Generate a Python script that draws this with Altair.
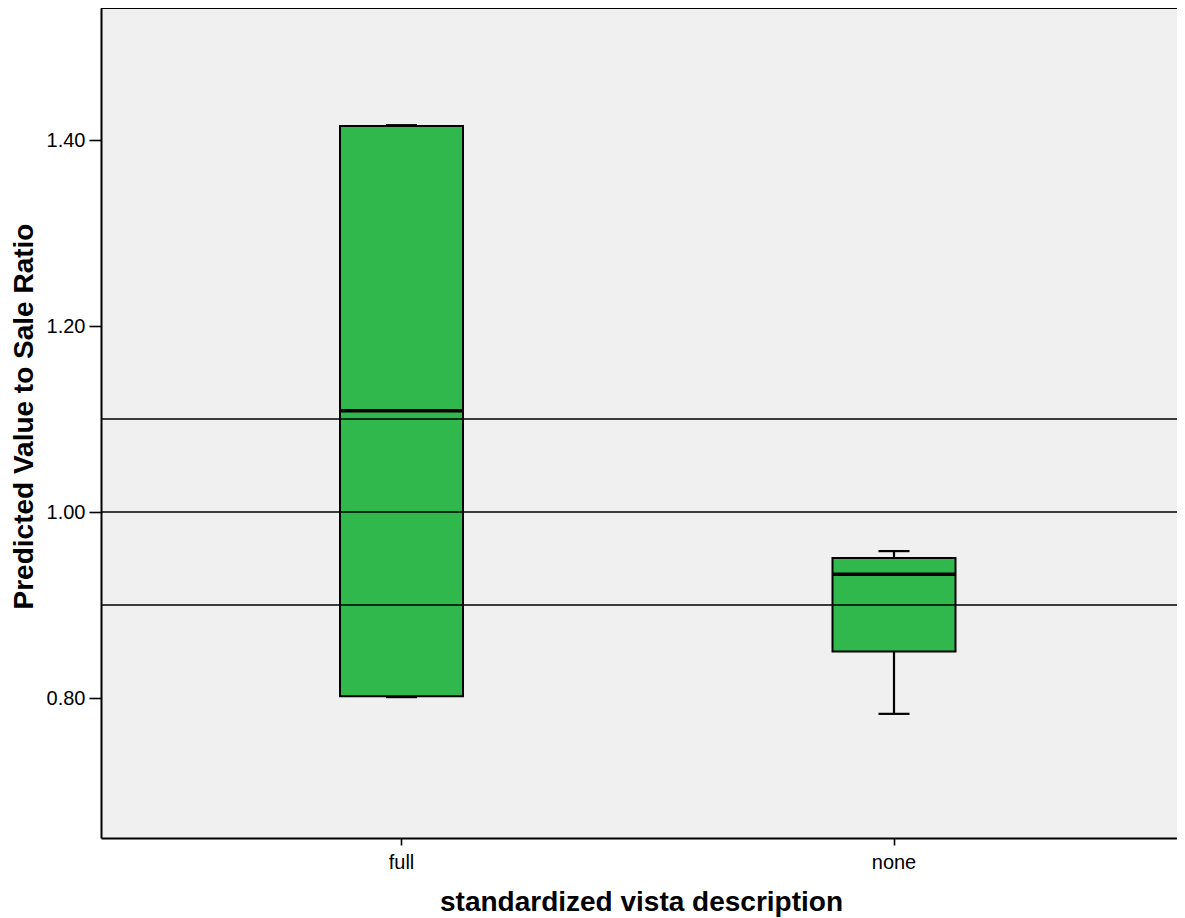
import altair as alt
import pandas as pd

categories = ["full", "none"]
q1 = [0.802, 0.850]
median = [1.109, 0.933]
q3 = [1.415, 0.9505]
lower = [0.801, 0.783]
upper = [1.416, 0.958]
ref_lines = [0.9, 1.0, 1.1]

df = pd.DataFrame({"cat": categories, "q1": q1, "median": median, "q3": q3,
                   "lower": lower, "upper": upper})
ref = pd.DataFrame({"v": ref_lines})

FONT = "Liberation Sans"
W, H = 1076, 830

x_scale = alt.Scale(paddingInner=0, paddingOuter=0.09239, align=0.5962)
y_scale = alt.Scale(domain=[0.6495, 1.542], nice=False, zero=False)

x_axis = alt.Axis(title="standardized vista description", labelAngle=0, grid=False,
                  tickSize=7, tickColor="black", tickWidth=1.6,
                  domainColor="black", domainWidth=2,
                  labelFont=FONT, labelFontSize=20, labelColor="black", labelPadding=7,
                  titleFont=FONT, titleFontSize=28, titleFontWeight="bold", titleColor="black",
                  titleX=540, titleY=72, titleAlign="center", titleBaseline="alphabetic")
y_axis = alt.Axis(title="Predicted Value to Sale Ratio", values=[0.8, 1.0, 1.2, 1.4],
                  format=".2f", grid=False,
                  tickSize=12, tickColor="black", tickWidth=1.6,
                  domainColor="black", domainWidth=2,
                  labelFont=FONT, labelFontSize=20, labelColor="black", labelPadding=4,
                  titleFont=FONT, titleFontSize=28, titleFontWeight="bold", titleColor="black",
                  titleX=-77, titleY=408, titleAngle=270, titleAlign="center",
                  titleBaseline="middle")

X = alt.X("cat:N", scale=x_scale, axis=x_axis, sort=categories)

base = alt.Chart(df)

whisk_lo = base.mark_rule(color="black", strokeWidth=2.2).encode(
    x=X, y=alt.Y("lower:Q", scale=y_scale, axis=y_axis), y2="q1:Q")
whisk_hi = base.mark_rule(color="black", strokeWidth=2.2).encode(
    x=X, y=alt.Y("q3:Q", scale=y_scale, axis=y_axis), y2="upper:Q")
box = base.mark_bar(size=123, color="#30b84c", stroke="black", strokeWidth=2).encode(
    x=X, y=alt.Y("q1:Q", scale=y_scale, axis=y_axis), y2="q3:Q")
med = base.mark_tick(size=123, thickness=3.5, color="black", opacity=1).encode(
    x=X, y=alt.Y("median:Q", scale=y_scale, axis=y_axis))
cap_lo = base.mark_tick(size=31, thickness=2.2, color="black", opacity=1).encode(
    x=X, y=alt.Y("lower:Q", scale=y_scale, axis=y_axis))
cap_hi = base.mark_tick(size=31, thickness=2.2, color="black", opacity=1).encode(
    x=X, y=alt.Y("upper:Q", scale=y_scale, axis=y_axis))
refs = alt.Chart(ref).mark_rule(color="black", strokeWidth=1.5).encode(
    y=alt.Y("v:Q", scale=y_scale, axis=y_axis))
top_border = alt.Chart(ref).mark_rule(color="black", strokeWidth=2).encode(
    x=alt.value(0), x2=alt.value(W), y=alt.value(0))

chart = alt.layer(whisk_lo, whisk_hi, box, med, cap_lo, cap_hi, refs, top_border).properties(
    width=W, height=H,
    autosize=alt.AutoSizeParams(type="none"),
    padding={"left": 93, "top": 0, "right": 0, "bottom": 80},
    background="white",
).configure_view(stroke=None, fill="#f0f0f0")

chart.save("out.html", embed_options={"renderer": "svg", "actions": False})
